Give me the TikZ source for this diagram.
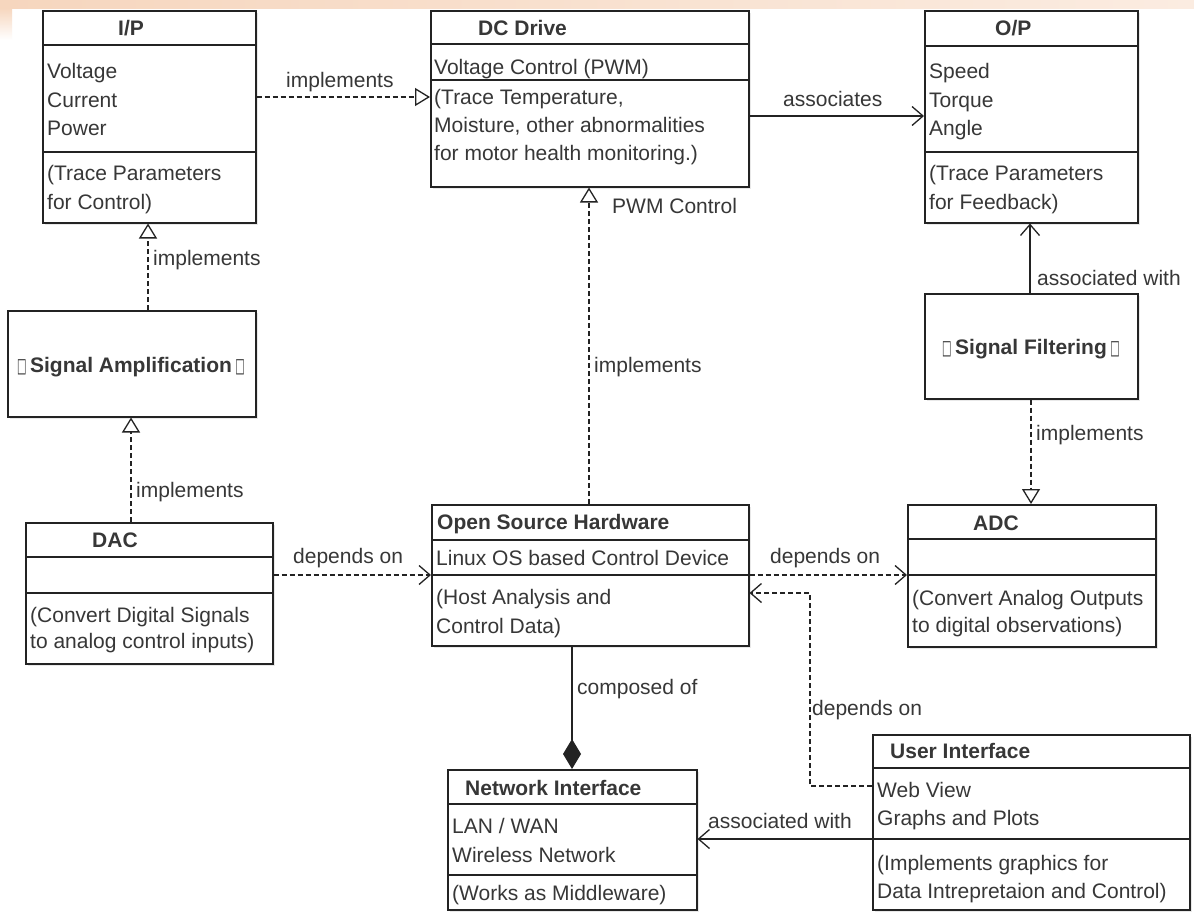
\documentclass[tikz,border=0pt]{standalone}
\usepackage{fontspec}
\usepackage{graphicx}
\setmainfont{Liberation Sans}
\newfontfamily\symf{DejaVu Sans}
\usetikzlibrary{arrows.meta,shadows}
\definecolor{ink}{RGB}{35,35,35}
\definecolor{txt}{RGB}{55,55,55}
\definecolor{peachA}{RGB}{246,214,190}
\definecolor{peachB}{RGB}{251,236,225}
\newcommand\sq{{\mdseries\symf\fontsize{20}{20}\selectfont\scalebox{0.5}[1]{\char"25A1}}}
\begin{document}
\begin{tikzpicture}[x=1pt,y=-1pt,
  box/.style={draw=ink, line width=1.5pt, fill=white, anchor=north west, inner sep=0pt,
    drop shadow={shadow xshift=2pt, shadow yshift=-2pt, opacity=0.18}},
  sepline/.style={draw=ink, line width=1.5pt},
  tx/.style={anchor=base west, inner sep=0pt, text=txt, font=\fontsize{21}{25}\selectfont},
  hd/.style={tx, font=\fontsize{21}{25}\selectfont\bfseries},
  ctr/.style={hd, anchor=base},
  realize/.style={draw=ink, line width=1.3pt, dash pattern=on 5pt off 3pt,
    -{Triangle[open, length=15pt, width=18pt, line width=1.3pt]}},
  depend/.style={draw=ink, line width=1.3pt, dash pattern=on 5pt off 3pt,
    -{Straight Barb[length=11pt, width=19pt, line width=1.3pt]}},
  assoc/.style={draw=ink, line width=1.3pt,
    -{Straight Barb[length=11pt, width=19pt, line width=1.3pt]}},
  compose/.style={draw=ink, line width=1.3pt, -{Diamond[length=30pt, width=18pt]}},
]
\useasboundingbox (0,0) rectangle (1194,916);
\fill[white] (0,0) rectangle (1194,916);
\shade[left color=peachA, right color=peachB] (0,0) rectangle (1194,8);
\shade[top color=peachA, bottom color=white] (0,8) rectangle (12,40);

% helper coordinates
\coordinate (h97) at (0,97);
\coordinate (h116) at (0,116);
\coordinate (h575) at (0,575);
\coordinate (h593) at (0,593);
\coordinate (h786) at (0,786);
\coordinate (h839) at (0,839);
\coordinate (v148) at (148,0);
\coordinate (v131) at (131,0);
\coordinate (v589) at (589,0);
\coordinate (v1031) at (1031,0);
\coordinate (v1030) at (1030,0);
\coordinate (v572) at (572,0);
\coordinate (bend) at (810,593);

% boxes
\node[box, minimum width=213pt, minimum height=212pt] (ip)  at (42,10) {};
\node[box, minimum width=318pt, minimum height=176pt] (dc)  at (430,10) {};
\node[box, minimum width=213pt, minimum height=212pt] (op)  at (924,10) {};
\node[box, minimum width=248pt, minimum height=106pt] (sa)  at (7,310) {};
\node[box, minimum width=247pt, minimum height=141pt] (dac) at (25,522) {};
\node[box, minimum width=317pt, minimum height=141pt] (osh) at (431,504) {};
\node[box, minimum width=213pt, minimum height=105pt] (sf)  at (924,293) {};
\node[box, minimum width=248pt, minimum height=142pt] (adc) at (907,504) {};
\node[box, minimum width=249pt, minimum height=140pt] (ni)  at (447,769) {};
\node[box, minimum width=317pt, minimum height=175pt] (ui)  at (872,734) {};

% compartment separators
\draw[sepline] (42,45) -- (255,45);   \draw[sepline] (42,152) -- (255,152);
\draw[sepline] (430,44) -- (748,44);  \draw[sepline] (430,80) -- (748,80);
\draw[sepline] (924,46) -- (1137,46); \draw[sepline] (924,152) -- (1137,152);
\draw[sepline] (25,557) -- (272,557); \draw[sepline] (25,593) -- (272,593);
\draw[sepline] (431,540) -- (748,540); \draw[sepline] (431,575) -- (748,575);
\draw[sepline] (907,539) -- (1155,539); \draw[sepline] (907,575) -- (1155,575);
\draw[sepline] (447,804) -- (696,804); \draw[sepline] (447,875) -- (696,875);
\draw[sepline] (872,768) -- (1189,768); \draw[sepline] (872,839) -- (1189,839);

% I/P
\node[hd] (ipH) at (118,35) {I/P};
\node[tx] (ipA1) at (47,78) {Voltage};
\node[tx] (ipA2) at (47,107) {Current};
\node[tx] (ipA3) at (47,135) {Power};
\node[tx] (ipO1) at (47,180) {(Trace Parameters};
\node[tx] (ipO2) at (47,209) {for Control)};
% DC Drive
\node[hd] (dcH) at (478,35) {DC Drive};
\node[tx] (dcA1) at (434,74) {Voltage Control (PWM)};
\node[tx] (dcO1) at (434,104) {(Trace Temperature,};
\node[tx] (dcO2) at (434,132) {Moisture, other abnormalities};
\node[tx] (dcO3) at (434,160) {for motor health monitoring.)};
% O/P
\node[hd] (opH) at (995,35) {O/P};
\node[tx] (opA1) at (929,78) {Speed};
\node[tx] (opA2) at (929,107) {Torque};
\node[tx] (opA3) at (929,135) {Angle};
\node[tx] (opO1) at (929,180) {(Trace Parameters};
\node[tx] (opO2) at (929,209) {for Feedback)};
% Signal Amplification / Filtering
\node[ctr] (saH) at (131,372) {\sq\,Signal Amplification\,\sq};
\node[ctr] (sfH) at (1031,354) {\sq\,Signal Filtering\,\sq};
% DAC
\node[hd] (dacH) at (92,547) {DAC};
\node[tx] (dacO1) at (30,622) {(Convert Digital Signals};
\node[tx] (dacO2) at (30,648) {to analog control inputs)};
% Open Source Hardware
\node[hd] (oshH) at (437,529) {Open Source Hardware};
\node[tx] (oshA1) at (436,565) {Linux OS based Control Device};
\node[tx] (oshO1) at (436,604) {(Host Analysis and};
\node[tx] (oshO2) at (436,633) {Control Data)};
% ADC
\node[hd] (adcH) at (973,530) {ADC};
\node[tx] (adcO1) at (912,605) {(Convert Analog Outputs};
\node[tx] (adcO2) at (912,632) {to digital observations)};
% Network Interface
\node[hd] (niH) at (465,795) {Network Interface};
\node[tx] (niA1) at (452,833) {LAN / WAN};
\node[tx] (niA2) at (452,862) {Wireless Network};
\node[tx] (niO1) at (452,900) {(Works as Middleware)};
% User Interface
\node[hd] (uiH) at (890,758) {User Interface};
\node[tx] (uiA1) at (877,797) {Web View};
\node[tx] (uiA2) at (877,825) {Graphs and Plots};
\node[tx] (uiO1) at (877,870) {(Implements graphics for};
\node[tx] (uiO2) at (877,898) {Data Intrepretaion and Control)};

% connectors
\draw[realize] (ip.east |- h97) -- (dc.west |- h97);
\draw[assoc] (dc.east |- h116) -- (op.west |- h116);
\draw[realize] (sa.north -| v148) -- (ip.south -| v148);
\draw[realize] (dac.north -| v131) -- (sa.south -| v131);
\draw[depend] (dac.east |- h575) -- (osh.west |- h575);
\draw[realize] (osh.north -| v589) -- (dc.south -| v589);
\draw[depend] (osh.east |- h575) -- (adc.west |- h575);
\draw[realize] (sf.south -| v1031) -- (adc.north -| v1031);
\draw[assoc] (sf.north -| v1030) -- (op.south -| v1030);
\draw[compose] (osh.south -| v572) -- (ni.north -| v572);
\draw[depend] (ui.west |- h786) -| (bend) -- (osh.east |- h593);
\draw[assoc] (ui.west |- h839) -- (ni.east |- h839);

% connector labels
\node[tx] (l1) at (286,87) {implements};
\node[tx] (l2) at (783,106) {associates};
\node[tx] (l3) at (153,265) {implements};
\node[tx] (l4) at (136,497) {implements};
\node[tx] (l5) at (293,563) {depends on};
\node[tx] (l6) at (612,213) {PWM Control};
\node[tx] (l7) at (594,372) {implements};
\node[tx] (l8) at (770,563) {depends on};
\node[tx] (l9) at (1036,440) {implements};
\node[tx] (l10) at (1037,285) {associated with};
\node[tx] (l11) at (577,694) {composed of};
\node[tx] (l12) at (812,715) {depends on};
\node[tx] (l13) at (708,828) {associated with};
\end{tikzpicture}
\end{document}
